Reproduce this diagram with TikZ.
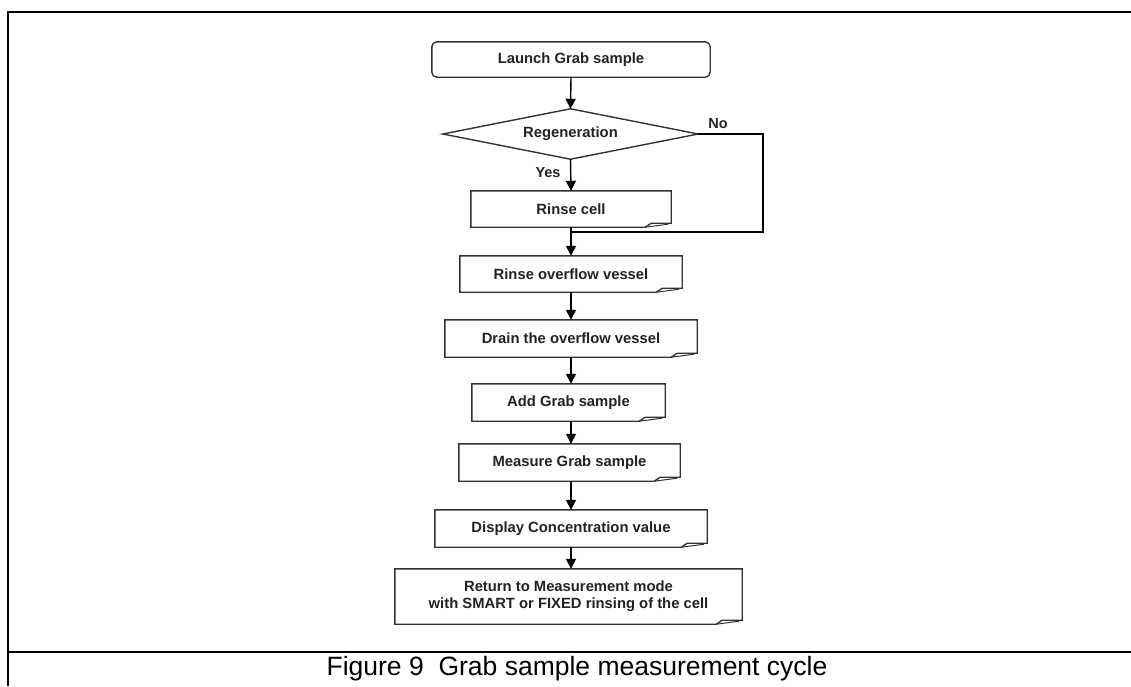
\documentclass[tikz,border=0pt]{standalone}
\usepackage{fontspec}
\setmainfont{Liberation Sans}
\usetikzlibrary{arrows.meta}
\definecolor{boxcol}{HTML}{333333}
\definecolor{txtcol}{HTML}{222222}
\tikzset{
  boxline/.style={draw=boxcol, line width=1.4pt, line join=miter},
  stepbox/.style={draw=none, rectangle, inner sep=0pt, font=\bfseries\fontsize{14.8}{17}\selectfont, text=txtcol, align=center},
  arr/.style={line width=1.4pt, -{Triangle[length=10pt,width=10pt]}},
  conn/.style={line width=1.4pt},
  frame/.style={line width=2.5pt, black},
  lbl/.style={font=\bfseries\fontsize{14.5}{17}\selectfont, text=txtcol, inner sep=0pt}
}
\newcommand\curlbox[1]{%
  \draw[boxline] (#1.north west) -- (#1.north east) -- ([yshift=4pt]#1.south east)
    -- ([xshift=-20pt,yshift=4pt]#1.south east) -- ([xshift=-26pt]#1.south east)
    -- (#1.south west) -- cycle;
  \draw[boxcol, line width=1pt] ([xshift=-26pt]#1.south east) -- ([xshift=-3pt,yshift=3pt]#1.south east);
}
\begin{document}
\begin{tikzpicture}[x=1pt,y=-1pt]
\useasboundingbox (0,0) rectangle (1131,686);
% frame
\draw[frame] (8,686) -- (8,12) -- (1131,12);
\draw[frame] (8,652) -- (1131,652);
% nodes
\node[stepbox, minimum width=278pt, minimum height=35pt] (launch) at (571,59.5) {Launch Grab sample};
\draw[boxline, rounded corners=5pt] (launch.north west) rectangle (launch.south east);
\node[stepbox, minimum width=255pt, minimum height=50pt] (regen) at (570.5,134) {Regeneration};
\draw[boxline] (regen.west) -- (regen.north) -- (regen.east) -- (regen.south) -- cycle;
\node[stepbox, minimum width=200pt, minimum height=36pt] (rcell) at (571,209) {Rinse cell};
\curlbox{rcell}
\node[stepbox, minimum width=222pt, minimum height=36pt] (rover) at (571,274) {Rinse overflow vessel};
\curlbox{rover}
\node[stepbox, minimum width=252pt, minimum height=37pt] (drain) at (571,338.5) {Drain the overflow vessel};
\curlbox{drain}
\node[stepbox, minimum width=193pt, minimum height=37pt] (add) at (568.5,402.5) {Add Grab sample};
\curlbox{add}
\node[stepbox, minimum width=221pt, minimum height=37pt] (meas) at (569.5,462.5) {Measure Grab sample};
\curlbox{meas}
\node[stepbox, minimum width=272pt, minimum height=37pt] (disp) at (571,528.5) {Display Concentration value};
\curlbox{disp}
\node[stepbox, minimum width=347pt, minimum height=55pt] (ret) at (568.5,596.5) {Return to Measurement mode\\with SMART or FIXED rinsing of the cell};
\curlbox{ret}
\coordinate (j) at (571,232);
\coordinate (nocorner) at (763,232);
% connectors
\draw[arr] (launch.south) -- (regen.north);
\draw[arr] (regen.south) -- (rcell.north);
\draw[arr] (rcell.south) -- (rover.north);
\draw[conn] (regen.east) -| (nocorner) -- (j);
\draw[arr] (rover.south) -- (drain.north);
\draw[arr] (drain.south) -- ([xshift=2.5pt]add.north);
\draw[arr] ([xshift=2.5pt]add.south) -- ([xshift=1.5pt]meas.north);
\draw[arr] ([xshift=1.5pt]meas.south) -- (disp.north);
\draw[arr] (disp.south) -- ([xshift=2.5pt]ret.north);
% labels
\node[lbl] (no) at (718,124) {No};
\node[lbl] (yes) at (548,173) {Yes};
\node[font=\fontsize{26.5}{30}\selectfont, inner sep=0pt] (cap) at (577,669) {Figure 9\ \ Grab sample measurement cycle};
\end{tikzpicture}
\end{document}
